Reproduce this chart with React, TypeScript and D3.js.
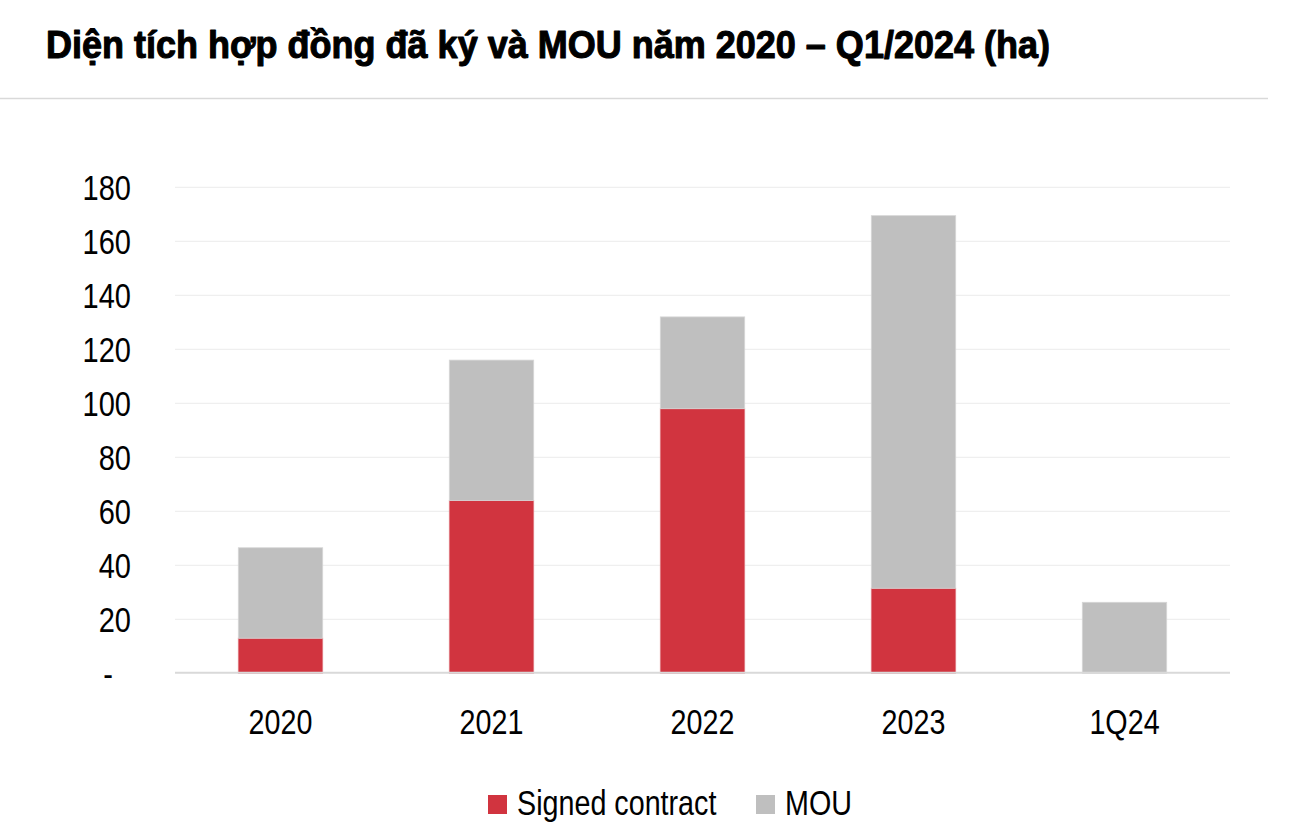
import React, { useEffect, useRef } from "react";
import * as d3 from "d3";

// Contract area by period (ha)
const categories = ["2020", "2021", "2022", "2023", "1Q24"];
const signedContract = [13, 64, 98, 31.5, 0];
const mou = [33.5, 52, 34, 138, 26.3];
const yTicks = [0, 20, 40, 60, 80, 100, 120, 140, 160, 180];
const seriesNames = ["Signed contract", "MOU"];
const seriesColors = ["#D1343F", "#BFBFBF"];

const FONT = "'Liberation Sans', Arial, sans-serif";
const NARROW = 0.82; // horizontal squeeze to get a condensed face

export default function App() {
  const ref = useRef<SVGSVGElement>(null);

  useEffect(() => {
    const svg = d3.select(ref.current);
    svg.selectAll("*").remove();

    const left = 175, right = 1230, top = 187.3, bottom = 673.3;

    // Condensed text: drawn at the origin of a translated, x-squeezed group
    const narrowText = (
      parent: d3.Selection<any, any, any, any>,
      x: number,
      y: number,
      txt: string,
      size: number,
      anchor = "start"
    ) => {
      const g = parent.append("g").attr("transform", `translate(${x},${y}) scale(${NARROW},1)`);
      g.append("text")
        .attr("x", 0).attr("y", 0)
        .attr("text-anchor", anchor)
        .attr("font-family", FONT).attr("font-size", size).attr("fill", "#000")
        .text(txt);
      return g;
    };

    // Title and rule beneath it
    svg.append("text")
      .attr("x", 46).attr("y", 58)
      .attr("font-family", FONT).attr("font-weight", "bold")
      .attr("font-size", 39).attr("fill", "#000")
      .attr("stroke", "#000").attr("stroke-width", 1.1).attr("stroke-linejoin", "round")
      .attr("textLength", 1004).attr("lengthAdjust", "spacingAndGlyphs")
      .text("Diện tích hợp đồng đã ký và MOU năm 2020 – Q1/2024 (ha)");
    svg.append("line")
      .attr("x1", 0).attr("x2", 1268).attr("y1", 98.5).attr("y2", 98.5)
      .attr("stroke", "#d9d9d9").attr("stroke-width", 1.5);

    const x = d3.scaleBand<string>().domain(categories).range([left, right]).padding(0);
    const y = d3.scaleLinear().domain([0, 180]).range([bottom, top]);

    // Gridlines
    svg.append("g").selectAll("line")
      .data(yTicks.filter((t) => t > 0))
      .join("line")
      .attr("x1", left).attr("x2", right)
      .attr("y1", (d) => y(d)).attr("y2", (d) => y(d))
      .attr("stroke", "#efefef").attr("stroke-width", 1.2);

    // Y tick labels
    const yLab = svg.append("g");
    yTicks.forEach((t) => {
      narrowText(yLab, t === 0 ? 113 : 131, y(t) + 12.6, t === 0 ? "-" : String(t), 35.4, "end");
    });

    // Stacked bars
    const rows = categories.map((c, i) => ({ cat: c, s: signedContract[i], m: mou[i] }));
    const stack = d3.stack<any>().keys(["s", "m"])(rows);
    const bw = x.bandwidth() * 0.4;
    stack.forEach((layer, li) => {
      svg.append("g").selectAll("rect")
        .data(layer.filter((d) => d[1] - d[0] > 0))
        .join("rect")
        .attr("x", (d) => (x(d.data.cat) as number) + (x.bandwidth() - bw) / 2)
        .attr("width", bw)
        .attr("y", (d) => y(d[1]))
        .attr("height", (d) => y(d[0]) - y(d[1]))
        .attr("fill", seriesColors[li])
        .attr("stroke", li === 0 ? "#e07c83" : "#d6d6d6")
        .attr("stroke-width", 0.8);
    });

    // Baseline
    svg.append("line")
      .attr("x1", left).attr("x2", right)
      .attr("y1", bottom - 0.5).attr("y2", bottom - 0.5)
      .attr("stroke", "#d9d9d9").attr("stroke-width", 2);

    // X labels
    const xLab = svg.append("g");
    categories.forEach((c) => {
      narrowText(xLab, (x(c) as number) + x.bandwidth() / 2, 734, c, 35, "middle");
    });

    // Legend
    const legend = svg.append("g");
    const items = [
      { name: seriesNames[0], color: seriesColors[0], sx: 488, tx: 517 },
      { name: seriesNames[1], color: seriesColors[1], sx: 756, tx: 785 },
    ];
    items.forEach((it) => {
      legend.append("rect").attr("x", it.sx).attr("y", 795).attr("width", 19).attr("height", 19).attr("fill", it.color);
      narrowText(legend, it.tx, 815, it.name, 35);
    });
  }, []);

  return (
    <svg ref={ref} width={1300} height={836} style={{ display: "block", position: "absolute", left: 0, top: 0, background: "#fff" }} />
  );
}
